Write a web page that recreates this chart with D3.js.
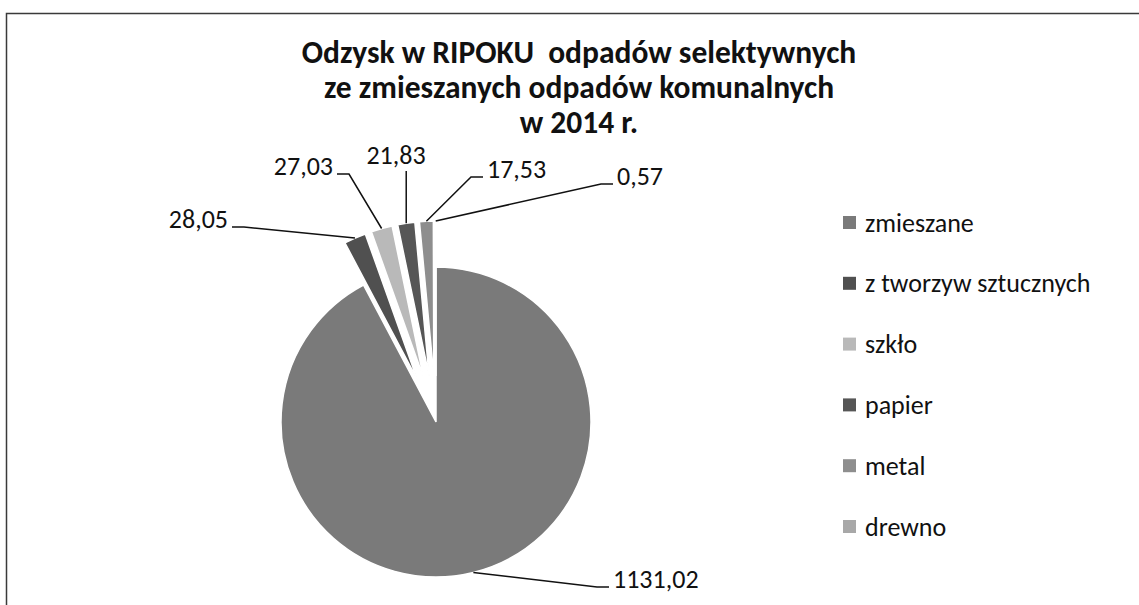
<!DOCTYPE html>
<html>
<head>
<meta charset="utf-8">
<script src="https://cdn.jsdelivr.net/npm/d3@7"></script>
<style>
  body { margin: 0; background: #ffffff; }
  text { font-family: Carlito, Lato, "Noto Sans", sans-serif; fill: #111111; white-space: pre; }
</style>
</head>
<body>
<script>
const categories = ["zmieszane", "z tworzyw sztucznych", "szkło", "papier", "metal", "drewno"]
const values = [1131.02, 28.05, 27.03, 21.83, 17.53, 0.57]
const value_labels = ["1131,02", "28,05", "27,03", "21,83", "17,53", "0,57"]
const title_lines = ["Odzysk w RIPOKU  odpadów selektywnych", "ze zmieszanych odpadów komunalnych", "w 2014 r."]

const width = 1139
const height = 605
const cx = 436, cy = 422
const radius = 155
const explode = 46
const slice_colors = ["#7a7a7a", "#505050", "#b9b9b9", "#565656", "#8e8e8e", "#a8a8a8"]

// where the data labels sit (baseline), as the chart tool placed them
const label_layout = [
  {x: 613, y: 588, anchor: "start"},
  {x: 228, y: 228, anchor: "end"},
  {x: 333, y: 175, anchor: "end"},
  {x: 396, y: 164, anchor: "middle"},
  {x: 487, y: 178, anchor: "start"},
  {x: 617, y: 185, anchor: "start"}
]

var svg = d3.select("body").append("svg")
    .attr("width", width)
    .attr("height", height);

// frame (only top and left edges survived the scan)
svg.append("path")
    .attr("d", "M6.5,605 V13.5 H1139")
    .style("fill", "none")
    .style("stroke", "#3a3a3a")
    .style("stroke-width", 1.5);

// title
svg.append("g").selectAll("text")
    .data(title_lines)
    .join("text")
      .attr("x", 579)
      .attr("y", (d, i) => 63 + i * 35)
      .attr("text-anchor", "middle")
      .style("font-size", "31.5px")
      .style("font-weight", "bold")
      .text(d => d);

var pie = d3.pie().sort(null).value(d => d)
var arcs = pie(values)
var arc = d3.arc().innerRadius(0).outerRadius(radius)

function offset(d, i) {
  if (i == 0) return [0, 0]
  var mid = (d.startAngle + d.endAngle) / 2
  return [explode * Math.sin(mid), -explode * Math.cos(mid)]
}

var g = svg.append("g").attr("transform", "translate(" + cx + "," + cy + ")")

g.selectAll("path")
    .data(arcs)
    .join("path")
      .attr("transform", (d, i) => "translate(" + offset(d, i) + ")")
      .attr("d", arc)
      .style("fill", (d, i) => slice_colors[i])
      .style("stroke", "#ffffff")
      .style("stroke-width", 1.5);

// leader lines: from the middle of the outer arc to the label
var leaders = arcs.map(function (d, i) {
  var mid = (d.startAngle + d.endAngle) / 2
  var o = offset(d, i)
  var px = cx + o[0] + radius * Math.sin(mid)
  var py = cy + o[1] - radius * Math.cos(mid)
  var L = label_layout[i]
  if (L.anchor == "middle") return [[px, py], [px, L.y + 7]]
  var ax = L.anchor == "start" ? L.x - 4 : L.x + 4
  var sx = L.anchor == "start" ? ax - 12 : ax + 12
  return [[px, py], [sx, L.y - 1], [ax, L.y - 1]]
})

svg.append("g").selectAll("path")
    .data(leaders)
    .join("path")
      .attr("d", d3.line())
      .style("fill", "none")
      .style("stroke", "#111111")
      .style("stroke-width", 1.5);

svg.append("g").selectAll("text")
    .data(value_labels)
    .join("text")
      .attr("x", (d, i) => label_layout[i].x)
      .attr("y", (d, i) => label_layout[i].y)
      .attr("text-anchor", (d, i) => label_layout[i].anchor)
      .style("font-size", "26px")
      .text(d => d);

// legend
var legend = svg.append("g").selectAll("g")
    .data(categories)
    .join("g")
      .attr("transform", (d, i) => "translate(843," + (223 + i * 60.8) + ")");

legend.append("rect")
    .attr("x", 0)
    .attr("y", -7)
    .attr("width", 13)
    .attr("height", 13)
    .style("fill", (d, i) => slice_colors[i]);

legend.append("text")
    .attr("x", 22)
    .attr("y", 0)
    .attr("dy", "0.33em")
    .style("font-size", "26px")
    .text(d => d);
</script>
</body>
</html>
